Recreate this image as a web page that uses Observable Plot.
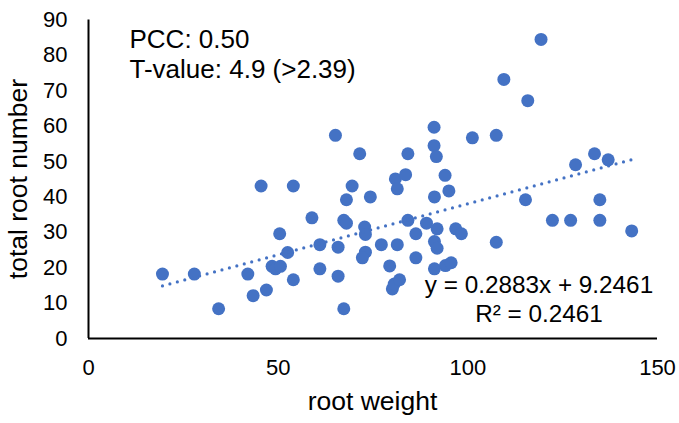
<!DOCTYPE html>
<html>
<head>
<meta charset="utf-8">
<script src="https://cdn.jsdelivr.net/npm/d3@7"></script>
<script src="https://cdn.jsdelivr.net/npm/@observablehq/plot@0.6"></script>
<style>
  html, body { margin: 0; padding: 0; background: #fff; }
  #chart svg { display: block; }
</style>
</head>
<body>
<div id="chart"></div>
<script>
// root weight (x) and total root number (y)
const rootWeight = [
  19.5, 27.9, 34.3, 42.0, 43.4, 45.5, 46.9, 48.4, 49.3, 50.6,
  50.4, 52.5, 54.0, 54.0, 58.9, 61.0, 61.0, 65.1, 65.8, 65.8,
  67.3, 68.0, 67.3, 68.0, 69.5, 71.5, 72.8, 73.0, 73.0, 72.2,
  74.3, 77.2, 79.4, 80.1, 80.6, 82.0, 80.9, 81.4, 83.6, 81.4,
  84.2, 84.2, 86.3, 86.3, 89.1, 91.1, 91.1, 91.7, 91.2, 91.9,
  91.2, 91.9, 91.2, 94.0, 95.0, 94.1, 95.6, 96.8, 98.3, 101.2,
  107.5, 107.5, 109.5, 115.8, 119.3, 115.2, 122.3, 127.1, 128.4, 133.4,
  134.8, 134.8, 137.0, 143.2
];
const totalRootNumber = [
  18.2, 18.2, 8.4, 18.2, 12.1, 43.1, 13.7, 20.4, 19.7, 20.4,
  29.6, 24.3, 43.1, 16.6, 34.1, 26.5, 19.7, 57.4, 25.8, 17.6,
  33.4, 32.6, 8.4, 39.2, 43.1, 52.2, 31.5, 29.4, 24.4, 22.8,
  40.0, 26.5, 20.5, 14.0, 15.4, 16.6, 45.1, 42.3, 46.3, 26.5,
  52.2, 33.4, 29.6, 22.8, 32.6, 59.7, 54.5, 51.4, 40.0, 31.0,
  27.4, 25.5, 19.7, 46.1, 41.7, 20.6, 21.4, 31.0, 29.6, 56.7,
  57.4, 27.2, 73.2, 67.2, 84.5, 39.2, 33.4, 33.4, 49.1, 52.2,
  39.2, 33.4, 50.5, 30.4
];
const xTicks = [0, 50, 100, 150];
const yTicks = [0, 10, 20, 30, 40, 50, 60, 70, 80, 90];
const slope = 0.2883, intercept = 9.2461;
const statLines = ["PCC: 0.50", "T-value: 4.9 (>2.39)"];
const eqLines = ["y = 0.2883x + 9.2461", "R² = 0.2461"];
const xLabel = "root weight", yLabel = "total root number";

const data = rootWeight.map((x, i) => ({x, y: totalRootNumber[i]}));
const [xmin, xmax] = d3.extent(rootWeight);
const trend = [xmin, xmax].map(x => ({x, y: slope * x + intercept}));

const blue = "#4472C4";
const font = "'Liberation Sans', Arial, sans-serif";

const chart = Plot.plot({
  width: 679,
  height: 423,
  marginLeft: 88,
  marginRight: 22,
  marginTop: 19.5,
  marginBottom: 85,
  x: {domain: [0, 150]},
  y: {domain: [0, 90]},
  style: {fontFamily: font, background: "#fff", color: "#000", overflow: "visible"},
  marks: [
    Plot.axisY({ticks: yTicks, tickSize: 0, tickPadding: 21, fontSize: 22, label: null}),
    Plot.axisX({ticks: xTicks, tickSize: 0, tickPadding: 21, fontSize: 22, label: null}),
    Plot.dot(data, {x: "x", y: "y", r: 6.5, fill: blue, stroke: "none"}),
    Plot.line(trend, {x: "x", y: "y", stroke: blue, strokeWidth: 3.2, strokeDasharray: "0 7.7", strokeLinecap: "round"}),
    Plot.ruleX([0], {stroke: "#000", strokeWidth: 2}),
    Plot.ruleY([0], {stroke: "#000", strokeWidth: 2})
  ]
});

const svg = d3.select(chart);
// axis titles
svg.append("text")
  .attr("x", 372.5).attr("y", 410)
  .attr("text-anchor", "middle")
  .attr("font-family", font).attr("font-size", 26.5).attr("fill", "#000")
  .text(xLabel);
svg.append("text")
  .attr("transform", "translate(27,179) rotate(-90)")
  .attr("text-anchor", "middle")
  .attr("font-family", font).attr("font-size", 26.5).attr("fill", "#000")
  .text(yLabel);
// statistics annotation
statLines.forEach((t, i) => {
  svg.append("text")
    .attr("x", 129.5).attr("y", 47.5 + i * 30)
    .attr("text-anchor", "start")
    .attr("font-family", font).attr("font-size", 26).attr("fill", "#000")
    .text(t);
});
// regression equation
eqLines.forEach((t, i) => {
  svg.append("text")
    .attr("x", 539).attr("y", 293.3 + i * 29)
    .attr("text-anchor", "middle")
    .attr("font-family", font).attr("font-size", 24.3).attr("fill", "#000")
    .text(t);
});

document.getElementById("chart").appendChild(chart);
</script>
</body>
</html>
